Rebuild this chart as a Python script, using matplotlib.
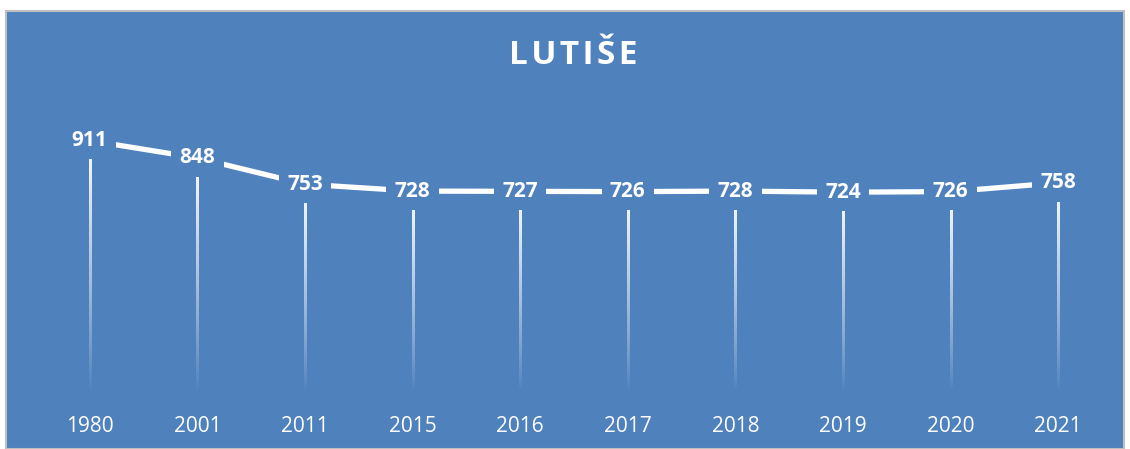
import matplotlib.pyplot as plt
import numpy as np

# data
years = ['1980', '2001', '2011', '2015', '2016', '2017', '2018', '2019', '2020', '2021']
population = [911, 848, 753, 728, 727, 726, 728, 724, 726, 758]

bg = '#4F81BD'
plt.rcParams['font.family'] = ['Open Sans', 'DejaVu Sans']

fig = plt.figure(figsize=(11.3, 4.49), dpi=100)
fig.patch.set_facecolor('white')

# blue chart area with thin grey border
frame = plt.Rectangle((6 / 1130, 0), 1 - 12 / 1130, 1 - 11 / 449, transform=fig.transFigure,
                      facecolor=bg, edgecolor='#BFBFBF', linewidth=1.5, zorder=-5)
fig.patches.append(frame)

ax = fig.add_axes([36 / 1130, 57 / 449, 1076 / 1130, 276 / 449])
ax.set_zorder(2)
ax.set_facecolor('none')
x = np.arange(len(years))

# drop lines fading out toward the axis (vertical gradient image)
grad = np.zeros((200, 1, 4))
grad[..., :3] = 1.0
grad[:, 0, 3] = np.linspace(0.0, 1.0, 200) ** 0.9   # row 0 = bottom with origin='lower'
half = 0.0095
for xi, yi in zip(x, population):
    ax.imshow(grad, extent=(xi - half, xi + half, 0, yi), origin='lower',
              aspect='auto', interpolation='bilinear', zorder=2)

ax.set_xlim(-0.5, len(years) - 0.5)
ax.set_ylim(0, 1000)

ax.plot(x, population, color='white', linewidth=3.8, solid_capstyle='butt', zorder=3)

for xi, yi in zip(x, population):
    ax.text(xi, yi, str(yi), ha='center', va='center', color='white', fontsize=15,
            fontweight='bold', zorder=4,
            bbox=dict(boxstyle='square,pad=0.4', facecolor=bg, edgecolor='none'))

ax.set_xticks(x)
ax.set_xticklabels(years, color='white', fontsize=15)
ax.tick_params(axis='x', length=0, pad=17)
ax.set_yticks([])
for s in ax.spines.values():
    s.set_visible(False)

fig.text(573 / 1130, 1 - 56 / 449, '\u200a'.join('LUTIŠE'), ha='center', va='center',
         color='white', fontsize=24, fontweight='bold')

plt.savefig('out.png', dpi=100, facecolor=fig.get_facecolor())
